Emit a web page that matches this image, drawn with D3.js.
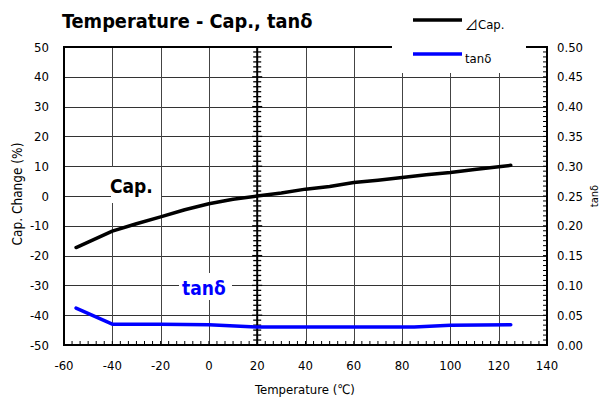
<!DOCTYPE html>
<html lang="en">
<head>
<meta charset="utf-8">
<script src="https://d3js.org/d3.v7.min.js"></script>
<style>
  body { margin: 0; background: #fff; }
  svg text { font-family: "DejaVu Sans Condensed", "DejaVu Sans", sans-serif; }
</style>
</head>
<body>
<script>
// Cap. change (%) vs temperature
var capTemp = [-55, -50, -40, -30, -20, -10, 0, 10, 20, 30, 40, 50, 60, 70, 80, 90, 100, 110, 120, 125];
var capVal  = [-17.3, -15.5, -11.8, -9.3, -7.0, -4.6, -2.6, -1.1, 0, 1.0, 2.3, 3.2, 4.5, 5.3, 6.2, 7.1, 7.9, 8.9, 9.8, 10.3];
// tan delta vs temperature
var tanTemp = [-55, -40, -20, 0, 20, 40, 60, 80, 85, 100, 125];
var tanVal  = [0.062, 0.035, 0.035, 0.034, 0.030, 0.030, 0.030, 0.030, 0.030, 0.033, 0.034];

var xTicks = [-60, -40, -20, 0, 20, 40, 60, 80, 100, 120, 140];
var yTicks = [-50, -40, -30, -20, -10, 0, 10, 20, 30, 40, 50];
var y2Ticks = [0, 0.05, 0.10, 0.15, 0.20, 0.25, 0.30, 0.35, 0.40, 0.45, 0.50];

var width = 602, height = 401;
var L = 64, R = 547, T = 47, B = 345;

var svg = d3.select("body").append("svg")
    .attr("width", width).attr("height", height);

var x = d3.scaleLinear().domain([-60, 140]).range([L, R]);
var y = d3.scaleLinear().domain([-50, 50]).range([B, T]);
var y2 = d3.scaleLinear().domain([0, 0.5]).range([B, T]);

// grid
svg.append("g").selectAll("line").data(yTicks.slice(1, -1)).enter().append("line")
    .attr("x1", L).attr("x2", R)
    .attr("y1", function(d) { return Math.round(y(d)) + 0.5; })
    .attr("y2", function(d) { return Math.round(y(d)) + 0.5; })
    .style("stroke", "#333").style("stroke-width", 1);
svg.append("g").selectAll("line").data(xTicks.slice(1, -1)).enter().append("line")
    .attr("y1", T).attr("y2", B)
    .attr("x1", function(d) { return Math.round(x(d)) + 0.5; })
    .attr("x2", function(d) { return Math.round(x(d)) + 0.5; })
    .style("stroke", "#444").style("stroke-width", 1);

// white boxes behind the inline labels
svg.append("rect").attr("x", 111).attr("y", 167).attr("width", 50).attr("height", 36).style("fill", "#fff");
svg.append("rect").attr("x", 179).attr("y", 273).attr("width", 53).attr("height", 27).style("fill", "#fff");

// frame
svg.append("rect").attr("x", L).attr("y", T).attr("width", R - L).attr("height", B - T)
    .style("fill", "none").style("stroke", "#000").style("stroke-width", 2);

// minor ticks
var xMinor = d3.range(0, 60).map(function(i) { return -60 + i * 20 / 6; });
svg.append("g").selectAll("line").data(xMinor).enter().append("line")
    .attr("x1", function(d) { return x(d); }).attr("x2", function(d) { return x(d); })
    .attr("y1", B).attr("y2", B - 4)
    .style("stroke", "#000").style("stroke-width", 1);

var y2Minor = d3.range(0, 60).map(function(i) { return i * 0.05 / 6; });
svg.append("g").selectAll("line").data(y2Minor).enter().append("line")
    .attr("x1", R).attr("x2", R - 4)
    .attr("y1", function(d) { return y2(d); }).attr("y2", function(d) { return y2(d); })
    .style("stroke", "#000").style("stroke-width", 1);

// crossing axis at 20 degC
var yMinor = d3.range(0, 61).map(function(i) { return -50 + i * 10 / 6; });
svg.append("line").attr("x1", x(20)).attr("x2", x(20)).attr("y1", T).attr("y2", B)
    .style("stroke", "#000").style("stroke-width", 2);
svg.append("g").selectAll("line").data(yMinor).enter().append("line")
    .attr("x1", function(d, i) { return x(20) - (i % 6 === 0 ? 5 : 4); })
    .attr("x2", function(d, i) { return x(20) + (i % 6 === 0 ? 5 : 4); })
    .attr("y1", function(d) { return y(d); }).attr("y2", function(d) { return y(d); })
    .style("stroke", "#000").style("stroke-width", 1.3);

// series
var capLine = d3.line().x(function(d) { return x(d[0]); }).y(function(d) { return y(d[1]); });
var tanLine = d3.line().x(function(d) { return x(d[0]); }).y(function(d) { return y2(d[1]); });

svg.append("path").attr("d", capLine(d3.zip(capTemp, capVal)))
    .style("fill", "none").style("stroke", "#000").style("stroke-width", 3.5)
    .style("stroke-linejoin", "round").style("stroke-linecap", "round");
svg.append("path").attr("d", tanLine(d3.zip(tanTemp, tanVal)))
    .style("fill", "none").style("stroke", "#0000ff").style("stroke-width", 3.5)
    .style("stroke-linejoin", "round").style("stroke-linecap", "round");

// tick labels
svg.append("g").selectAll("text").data(yTicks).enter().append("text")
    .attr("x", 49).attr("y", function(d) { return y(d); }).attr("dy", "0.35em")
    .attr("text-anchor", "end").style("font-size", "13px").text(function(d) { return d; });
svg.append("g").selectAll("text").data(y2Ticks).enter().append("text")
    .attr("x", 557).attr("y", function(d) { return y2(d); }).attr("dy", "0.35em")
    .style("font-size", "13px").text(function(d) { return d3.format(".2f")(d); });
svg.append("g").selectAll("text").data(xTicks).enter().append("text")
    .attr("x", function(d) { return x(d); }).attr("y", 365).attr("dy", "0.35em")
    .attr("text-anchor", "middle").style("font-size", "13px").text(function(d) { return d; });

// axis titles
svg.append("text").attr("x", 305).attr("y", 389).attr("dy", "0.35em")
    .attr("text-anchor", "middle").style("font-size", "13px").text("Temperature (\u2103)");
svg.append("text").attr("transform", "translate(17,194) rotate(-90)").attr("dy", "0.35em")
    .attr("text-anchor", "middle").style("font-size", "13.5px").text("Cap. Change (%)");
svg.append("text").attr("transform", "translate(594,196) rotate(-90)").attr("dy", "0.35em")
    .attr("text-anchor", "middle").style("font-size", "11px").text("tan\u03b4");

// title
svg.append("text").attr("x", 62).attr("y", 28)
    .style("font-size", "19.8px").style("font-weight", "bold").text("Temperature - Cap., tan\u03b4");

// inline labels
svg.append("text").attr("x", 110).attr("y", 186).attr("dy", "0.35em")
    .style("font-size", "19px").style("font-weight", "bold").text("Cap.");
svg.append("text").attr("x", 182).attr("y", 288).attr("dy", "0.35em")
    .style("font-size", "19px").style("font-weight", "bold").style("fill", "#0000ff").text("tan\u03b4");

// legend
var legend = svg.append("g");
legend.append("rect").attr("x", 392).attr("y", 0).attr("width", 134).attr("height", 73).style("fill", "#fff");
var legendMark = ["\u22bf", ""];
var legendText = ["Cap.", "tan\u03b4"];
var legendColor = ["#000", "#0000ff"];
var legendY = [20, 54];
legend.selectAll("line").data(legendText).enter().append("line")
    .attr("x1", 413).attr("x2", 462)
    .attr("y1", function(d, i) { return legendY[i]; }).attr("y2", function(d, i) { return legendY[i]; })
    .style("stroke", function(d, i) { return legendColor[i]; }).style("stroke-width", 3.5);
var lt = legend.selectAll("text").data(legendText).enter().append("text")
    .attr("x", 465).attr("y", function(d, i) { return legendY[i] + 4; }).attr("dy", "0.35em")
    .style("font-size", "13px");
lt.append("tspan").style("font-family", "'Noto Sans CJK JP'")
    .text(function(d, i) { return legendMark[i]; });
lt.append("tspan").text(function(d) { return d; });
</script>
</body>
</html>
